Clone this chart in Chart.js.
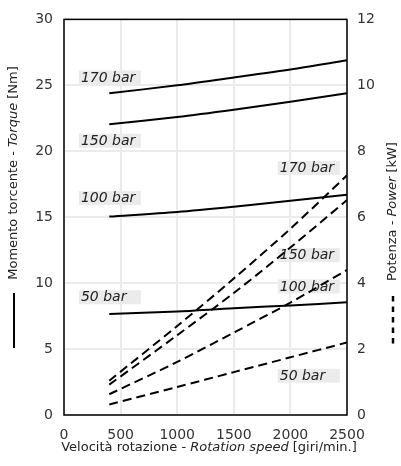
<!DOCTYPE html>
<html>
<head>
<meta charset="utf-8">
<script src="https://cdn.jsdelivr.net/npm/chart.js@4"></script>
<style>
html,body{margin:0;padding:0;background:#fff;}
#wrap{width:401px;height:466px;position:relative;}
</style>
</head>
<body>
<div id="wrap"><canvas id="c" width="401" height="466"></canvas></div>
<script>
// ---- data ----
const rpm = [400, 1000, 1500, 2000, 2500];
const torque170 = [24.4, 25.0, 25.6, 26.2, 26.9];
const torque150 = [22.05, 22.6, 23.15, 23.75, 24.4];
const torque100 = [15.05, 15.4, 15.8, 16.25, 16.7];
const torque50  = [7.65, 7.85, 8.1, 8.3, 8.55];
const power170 = [1.04, 2.7, 4.14, 5.65, 7.27];
const power150 = [0.92, 2.42, 3.70, 5.08, 6.52];
const power100 = [0.63, 1.61, 2.50, 3.41, 4.40];
const power50  = [0.32, 0.85, 1.30, 1.75, 2.2];
const pressures = ['170 bar', '150 bar', '100 bar', '50 bar'];
const xTicks = [0, 500, 1000, 1500, 2000, 2500];
const torqueTicks = [0, 5, 10, 15, 20, 25, 30];
const powerTicks = [0, 2, 4, 6, 8, 10, 12];
// label anchors (data coordinates): [x value, y value]
const torqueLabelAt = [[132, 25.6], [132, 20.8], [132, 16.45], [132, 8.93]];
const powerLabelAt  = [[1888, 7.49], [1888, 4.85], [1888, 3.9], [1888, 1.19]];

const FONT = "'DejaVu Sans', Verdana, sans-serif";

function pts(xs, ys){ return xs.map((x,i)=>({x:x, y:ys[i]})); }

const torqueSeries = [torque170, torque150, torque100, torque50];
const powerSeries = [power170, power150, power100, power50];
const datasets = [];
torqueSeries.forEach((s,i)=>datasets.push({
  label: 'Torque ' + pressures[i], data: pts(rpm, s), yAxisID: 'y',
  borderColor: '#000', borderWidth: 2, pointRadius: 0, fill: false, tension: 0.3
}));
powerSeries.forEach((s,i)=>datasets.push({
  label: 'Power ' + pressures[i], data: pts(rpm, s), yAxisID: 'y2',
  borderColor: '#000', borderWidth: 2, borderDash: [9,5], pointRadius: 0, fill: false, tension: 0.3
}));

const labelsPlugin = {
  id: 'barLabels',
  beforeDatasetsDraw(chart){
    const ctx = chart.ctx, xs = chart.scales.x;
    const draw = (anchors, scale) => {
      anchors.forEach((a,i)=>{
        const left = xs.getPixelForValue(a[0]);
        const cy = scale.getPixelForValue(a[1]);
        ctx.save();
        ctx.fillStyle = '#ebebeb';
        ctx.fillRect(left, cy - 7, 62, 14);
        ctx.fillStyle = '#222';
        ctx.font = "italic 14px " + FONT;
        ctx.textBaseline = 'middle';
        ctx.textAlign = 'left';
        ctx.fillText(pressures[i], left + 2, cy + 0.5);
        ctx.restore();
      });
    };
    draw(torqueLabelAt, chart.scales.y);
    draw(powerLabelAt, chart.scales.y2);
  },
  afterDraw(chart){
    const ctx = chart.ctx, a = chart.chartArea;
    ctx.save();
    ctx.strokeStyle = '#000';
    ctx.lineWidth = 1.5;
    ctx.strokeRect(a.left, a.top, a.right - a.left, a.bottom - a.top);
    ctx.restore();

    function mixed(parts, cx, cy, rot){
      ctx.save();
      ctx.translate(cx, cy);
      ctx.rotate(rot);
      ctx.textBaseline = 'middle';
      ctx.textAlign = 'left';
      ctx.fillStyle = '#222';
      let total = 0;
      parts.forEach(p=>{ ctx.font = (p[1] ? 'italic ' : '') + '13px ' + FONT; p.w = ctx.measureText(p[0]).width; total += p.w; });
      let x = -total/2;
      parts.forEach(p=>{ ctx.font = (p[1] ? 'italic ' : '') + '13px ' + FONT; ctx.fillText(p[0], x, 0); x += p.w; });
      ctx.restore();
    }
    mixed([['Velocità rotazione - ',0],['Rotation speed',1],[' [giri/min.]',0]], 209, 448, 0);
    mixed([['Momento torcente - ',0],['Torque',1],[' [Nm]',0]], 14, 173, -Math.PI/2);
    mixed([['Potenza - ',0],['Power',1],[' [kW]',0]], 393, 211.5, -Math.PI/2);

    // line-style keys under axis titles
    ctx.save();
    ctx.strokeStyle = '#000';
    ctx.lineWidth = 2;
    ctx.beginPath(); ctx.moveTo(14, 293); ctx.lineTo(14, 348); ctx.stroke();
    ctx.lineWidth = 2.5;
    ctx.setLineDash([5.5, 5]);
    ctx.beginPath(); ctx.moveTo(393, 296); ctx.lineTo(393, 348); ctx.stroke();
    ctx.restore();
  }
};

const plain = v => String(v);

new Chart(document.getElementById('c'), {
  type: 'line',
  data: { datasets },
  options: {
    responsive: false,
    animation: false,
    events: [],
    layout: { padding: { top: 15, left: 0, right: 0, bottom: 0 } },
    plugins: { legend: { display: false }, tooltip: { enabled: false } },
    scales: {
      x: {
        type: 'linear', min: 0, max: 2500,
        afterBuildTicks: s => { s.ticks = xTicks.map(v=>({value:v})); },
        afterFit: s => { s.height = 51; },
        ticks: { font: { family: FONT, size: 14 }, color: '#333', padding: 12, maxRotation: 0, callback: plain },
        grid: { color: '#ebebeb', lineWidth: 2, drawTicks: false },
        border: { display: false }
      },
      y: {
        position: 'left', min: 0, max: 30,
        afterBuildTicks: s => { s.ticks = torqueTicks.map(v=>({value:v})); },
        afterFit: s => { s.width = 64; },
        ticks: { font: { family: FONT, size: 14 }, color: '#333', padding: 11, callback: plain },
        grid: { color: '#ebebeb', lineWidth: 2, drawTicks: false },
        border: { display: false }
      },
      y2: {
        position: 'right', min: 0, max: 12,
        afterBuildTicks: s => { s.ticks = powerTicks.map(v=>({value:v})); },
        afterFit: s => { s.width = 54; },
        ticks: { font: { family: FONT, size: 14 }, color: '#333', padding: 10, callback: plain },
        grid: { display: false, drawTicks: false },
        border: { display: false }
      }
    }
  },
  plugins: [labelsPlugin]
});
</script>
</body>
</html>
